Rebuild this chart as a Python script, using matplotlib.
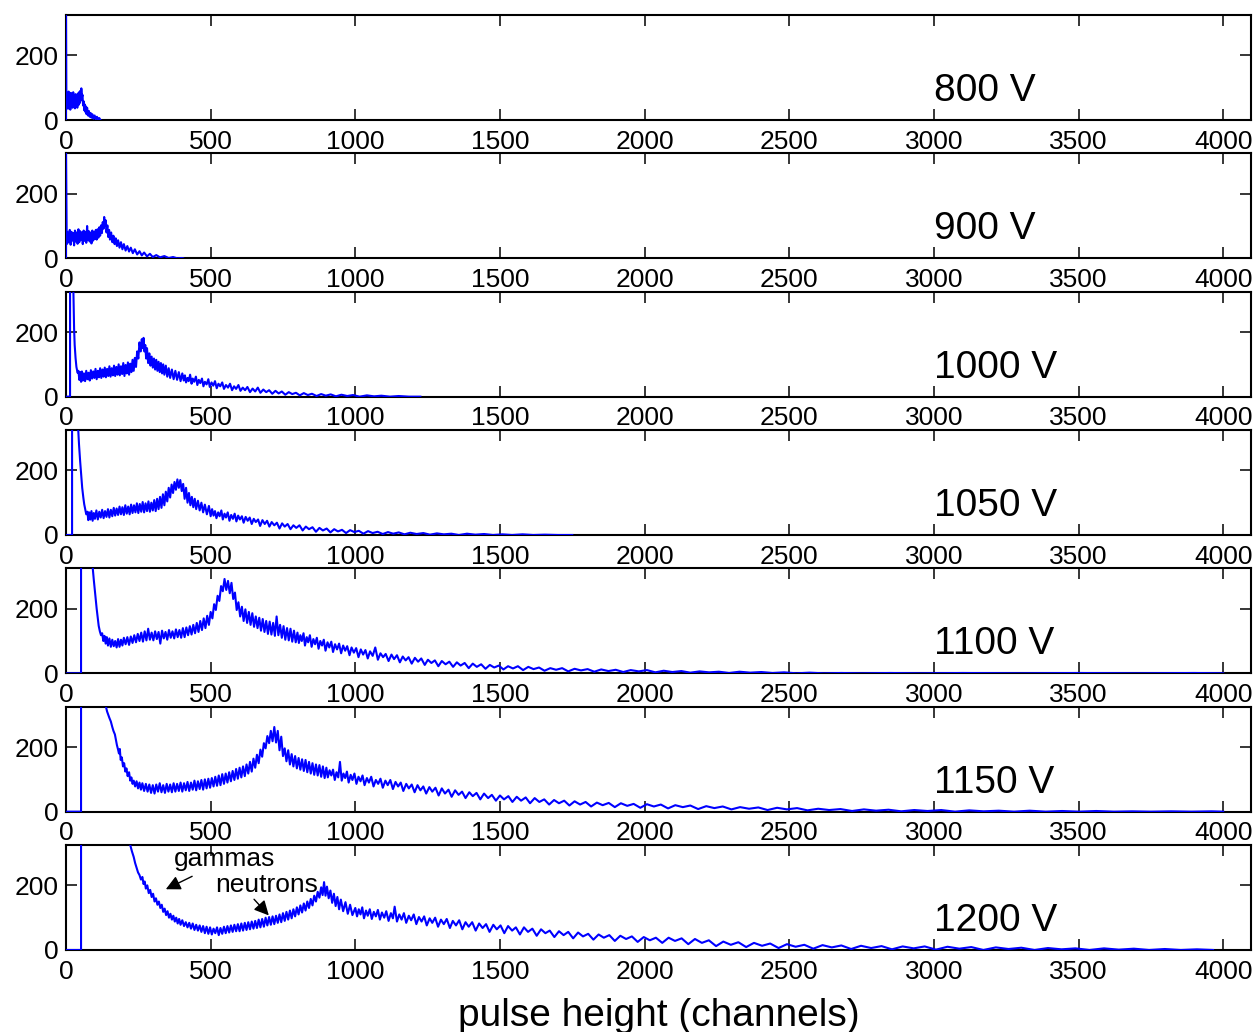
"""Pulse-height spectra at seven PMT voltages, stacked panels."""

import matplotlib
matplotlib.use("Agg")
import matplotlib.pyplot as plt

# ---------------------------------------------------------------------------
# Data (channel, counts), per high-voltage setting
# ---------------------------------------------------------------------------

VOLTAGES = ["800 V", "900 V", "1000 V", "1050 V", "1100 V", "1150 V", "1200 V"]

SPEC_800 = [
    (0, 0), (0, 330), (1, 85), (3, 40), (5, 80), (7, 35), (9, 88), (11, 45), (13, 78), (15, 32),
    (17, 84), (19, 48), (21, 76), (23, 38), (25, 86), (27, 44), (29, 72), (31, 36), (33, 80),
    (35, 42), (37, 74), (39, 38), (41, 82), (43, 46), (45, 86), (47, 52), (49, 90), (51, 60),
    (53, 98), (55, 70), (57, 78), (59, 45), (61, 58), (63, 30), (65, 48), (67, 25), (69, 42),
    (71, 18), (73, 38), (76, 14), (79, 28), (82, 10), (85, 22), (88, 7), (91, 18), (95, 4),
    (99, 14), (103, 2), (107, 10), (111, 1), (115, 6), (119, 0),
]

SPEC_900 = [
    (0, 0), (0, 330), (2, 85), (4, 45), (7, 80), (10, 50), (13, 88), (16, 42), (19, 82), (22, 55),
    (25, 78), (28, 40), (31, 86), (34, 52), (37, 80), (40, 45), (43, 90), (46, 50), (49, 84),
    (52, 58), (55, 80), (58, 44), (61, 86), (64, 54), (67, 82), (70, 48), (73, 100), (76, 56),
    (79, 84), (82, 52), (85, 80), (88, 46), (91, 86), (94, 55), (97, 82), (100, 60), (103, 88),
    (106, 58), (109, 90), (112, 64), (115, 96), (118, 70), (121, 102), (124, 78), (127, 112),
    (130, 92), (132, 128), (134, 100), (137, 118), (140, 80), (143, 102), (146, 66), (149, 88),
    (152, 58), (156, 80), (160, 50), (164, 70), (168, 44), (172, 62), (176, 38), (180, 56),
    (185, 33), (190, 50), (195, 28), (200, 44), (206, 24), (212, 38), (218, 21), (224, 33),
    (231, 16), (238, 28), (246, 12), (254, 22), (262, 9), (270, 18), (280, 6), (290, 14),
    (300, 4), (312, 10), (325, 3), (340, 7), (355, 1), (370, 4), (385, 0), (400, 1), (405, 0),
]

SPEC_1000 = [
    (0, 0), (14, 0), (14, 400), (24, 400), (26, 300), (28, 210), (30, 160), (33, 120), (36, 92),
    (40, 74), (43, 80), (46, 52), (49, 76), (52, 46), (55, 78), (58, 50), (62, 72), (66, 48),
    (70, 80), (74, 54), (78, 74), (82, 50), (86, 82), (90, 56), (94, 78), (98, 58), (102, 86),
    (106, 54), (110, 80), (114, 60), (118, 88), (122, 58), (126, 84), (130, 62), (134, 90),
    (138, 60), (142, 86), (146, 64), (150, 94), (154, 62), (158, 88), (162, 66), (166, 96),
    (170, 64), (174, 92), (178, 68), (182, 100), (186, 66), (190, 94), (194, 70), (198, 104),
    (202, 64), (206, 98), (210, 72), (214, 106), (218, 68), (222, 102), (226, 76), (230, 114),
    (234, 80), (238, 120), (242, 92), (246, 140), (250, 118), (254, 168), (258, 140), (262, 178),
    (265, 150), (268, 182), (271, 140), (274, 160), (277, 118), (280, 150), (284, 104),
    (288, 134), (292, 96), (296, 124), (300, 90), (304, 118), (308, 84), (312, 114), (316, 80),
    (320, 108), (324, 76), (328, 104), (332, 72), (336, 100), (340, 68), (345, 96), (350, 62),
    (355, 88), (360, 58), (366, 84), (372, 54), (378, 80), (384, 52), (390, 76), (396, 48),
    (402, 72), (407, 50), (411, 66), (415, 44), (420, 58), (424, 48), (429, 68), (434, 40),
    (438, 56), (443, 46), (449, 62), (454, 36), (459, 52), (464, 42), (470, 56), (475, 32),
    (480, 46), (486, 38), (492, 54), (497, 30), (503, 44), (509, 34), (515, 48), (521, 26),
    (527, 40), (533, 32), (540, 44), (546, 24), (553, 36), (560, 28), (567, 40), (574, 20),
    (581, 32), (588, 24), (596, 36), (603, 18), (611, 28), (619, 20), (627, 30), (636, 14),
    (645, 25), (654, 16), (663, 28), (672, 12), (682, 22), (692, 14), (702, 20), (713, 9),
    (724, 18), (735, 10), (746, 16), (758, 6), (770, 14), (782, 8), (795, 12), (808, 4),
    (822, 11), (836, 5), (850, 9), (866, 2), (882, 8), (898, 3), (915, 7), (933, 1), (952, 6),
    (972, 2), (992, 5), (1015, 0), (1040, 4), (1065, 1), (1090, 3), (1120, 0), (1150, 2),
    (1185, 0), (1225, 0),
]

SPEC_1050 = [
    (0, 0), (21, 0), (21, 400), (40, 400), (42, 330), (45, 280), (49, 227), (53, 180), (56, 146),
    (60, 115), (63, 95), (67, 78), (70, 64), (74, 72), (77, 46), (80, 70), (84, 48), (88, 74),
    (92, 44), (96, 68), (100, 50), (105, 76), (110, 48), (115, 72), (120, 54), (125, 78),
    (130, 52), (135, 74), (140, 56), (145, 80), (150, 54), (155, 78), (160, 58), (165, 84),
    (170, 60), (175, 82), (180, 62), (185, 88), (190, 64), (195, 86), (200, 62), (205, 92),
    (210, 66), (215, 88), (220, 64), (225, 94), (230, 68), (235, 92), (240, 70), (245, 98),
    (250, 68), (255, 96), (260, 72), (265, 102), (270, 70), (275, 98), (280, 74), (285, 104),
    (290, 72), (295, 100), (300, 76), (305, 108), (310, 74), (315, 112), (320, 80), (325, 118),
    (330, 84), (335, 126), (340, 92), (345, 134), (350, 104), (355, 146), (360, 116), (365, 156),
    (370, 130), (375, 164), (380, 140), (385, 172), (390, 146), (395, 170), (400, 136),
    (405, 158), (410, 112), (415, 146), (420, 100), (425, 130), (430, 92), (435, 118), (440, 86),
    (445, 112), (450, 80), (456, 106), (462, 76), (468, 100), (474, 70), (480, 94), (487, 64),
    (494, 90), (500, 58), (505, 80), (510, 60), (515, 74), (520, 52), (526, 70), (531, 58),
    (537, 76), (542, 48), (548, 66), (553, 54), (559, 70), (565, 44), (571, 62), (577, 50),
    (583, 66), (589, 42), (595, 60), (601, 48), (608, 58), (614, 38), (621, 56), (628, 44),
    (635, 54), (642, 34), (649, 50), (656, 40), (664, 48), (671, 28), (679, 46), (687, 34),
    (695, 44), (703, 26), (711, 40), (720, 30), (729, 38), (738, 20), (747, 36), (756, 26),
    (766, 34), (776, 18), (786, 30), (796, 22), (807, 30), (818, 14), (829, 26), (840, 18),
    (852, 24), (864, 10), (876, 22), (888, 14), (901, 20), (914, 8), (927, 18), (940, 11),
    (954, 16), (968, 6), (982, 15), (997, 9), (1012, 13), (1028, 4), (1044, 12), (1060, 6),
    (1077, 10), (1095, 3), (1113, 9), (1131, 4), (1150, 8), (1170, 2), (1190, 7), (1212, 3),
    (1235, 6), (1258, 1), (1282, 5), (1306, 2), (1332, 4), (1358, 0), (1386, 4), (1415, 1),
    (1445, 3), (1476, 0), (1508, 2), (1542, 0), (1578, 2), (1615, 0), (1655, 1), (1700, 0),
    (1750, 0),
]

SPEC_1100 = [
    (0, 0), (52, 0), (52, 400), (90, 400), (92, 330), (96, 290), (101, 244), (106, 200),
    (110, 170), (113, 147), (117, 130), (121, 118), (125, 124), (129, 100), (133, 116),
    (137, 92), (141, 112), (145, 86), (150, 108), (155, 82), (160, 104), (165, 84), (170, 100),
    (175, 80), (180, 106), (185, 82), (190, 104), (195, 86), (200, 110), (206, 90), (212, 112),
    (218, 88), (224, 114), (230, 94), (236, 118), (242, 96), (248, 122), (254, 100), (260, 126),
    (266, 98), (272, 130), (278, 102), (284, 138), (290, 104), (296, 126), (302, 102),
    (308, 130), (314, 106), (320, 128), (326, 92), (332, 132), (338, 108), (344, 128),
    (350, 104), (356, 134), (362, 110), (368, 130), (374, 108), (380, 136), (386, 112),
    (392, 134), (398, 110), (404, 140), (410, 112), (416, 142), (422, 118), (428, 146),
    (434, 120), (440, 150), (446, 124), (452, 156), (458, 128), (464, 162), (470, 134),
    (476, 170), (482, 140), (488, 178), (494, 150), (500, 190), (506, 170), (512, 214),
    (518, 196), (524, 240), (530, 224), (536, 270), (542, 254), (548, 292), (554, 258),
    (560, 286), (566, 248), (572, 280), (578, 230), (584, 250), (590, 196), (596, 220),
    (602, 176), (608, 206), (614, 162), (620, 198), (626, 156), (632, 190), (638, 150),
    (644, 186), (650, 144), (656, 176), (662, 140), (668, 172), (674, 132), (680, 168),
    (686, 128), (692, 162), (698, 122), (704, 160), (710, 120), (716, 156), (722, 116),
    (728, 176), (734, 118), (740, 150), (746, 110), (752, 146), (758, 104), (764, 140),
    (770, 102), (776, 138), (782, 98), (788, 132), (794, 96), (800, 126), (805, 94), (810, 118),
    (815, 100), (821, 124), (826, 86), (832, 112), (837, 96), (843, 118), (849, 82), (855, 106),
    (861, 90), (867, 110), (873, 76), (879, 100), (885, 86), (891, 104), (897, 70), (904, 96),
    (910, 80), (917, 98), (923, 66), (930, 90), (937, 74), (944, 92), (951, 62), (958, 86),
    (965, 70), (972, 84), (980, 56), (987, 80), (995, 64), (1003, 78), (1011, 50), (1019, 74),
    (1027, 58), (1035, 72), (1043, 46), (1051, 68), (1060, 54), (1069, 80), (1078, 42),
    (1087, 62), (1096, 50), (1105, 60), (1115, 38), (1125, 58), (1134, 44), (1144, 56),
    (1154, 34), (1164, 52), (1174, 40), (1184, 50), (1195, 30), (1206, 48), (1217, 36),
    (1228, 46), (1240, 26), (1251, 42), (1263, 32), (1275, 40), (1287, 22), (1299, 38),
    (1312, 28), (1325, 36), (1338, 20), (1351, 34), (1364, 24), (1378, 32), (1392, 16),
    (1406, 30), (1420, 20), (1435, 28), (1450, 14), (1465, 26), (1480, 18), (1496, 24),
    (1512, 12), (1528, 22), (1545, 15), (1562, 22), (1580, 10), (1598, 20), (1616, 13),
    (1635, 18), (1654, 8), (1674, 16), (1694, 11), (1715, 16), (1736, 6), (1758, 14), (1780, 9),
    (1803, 13), (1826, 5), (1850, 12), (1875, 7), (1900, 11), (1926, 4), (1952, 10), (1980, 6),
    (2008, 10), (2037, 3), (2066, 8), (2096, 4), (2127, 7), (2158, 2), (2190, 6), (2223, 3),
    (2257, 5), (2292, 1), (2328, 5), (2365, 2), (2403, 4), (2442, 1), (2482, 3), (2525, 0),
    (2570, 2), (2620, 0), (2680, 1), (2750, 0), (2850, 1), (2950, 0), (3100, 1), (3300, 0),
    (3500, 1), (3700, 0), (3900, 1), (4000, 0),
]

SPEC_1150 = [
    (0, 0), (52, 0), (52, 400), (136, 400), (138, 325), (142, 310), (146, 300), (150, 290),
    (155, 279), (160, 262), (164, 250), (169, 239), (173, 220), (176, 206), (180, 192),
    (183, 180), (186, 194), (189, 160), (193, 168), (197, 140), (201, 150), (205, 124),
    (209, 134), (213, 110), (218, 122), (222, 96), (226, 106), (230, 86), (234, 96), (239, 78),
    (244, 94), (249, 72), (254, 90), (259, 68), (264, 88), (270, 64), (276, 86), (282, 62),
    (288, 84), (294, 58), (300, 82), (306, 56), (312, 84), (318, 62), (324, 88), (330, 60),
    (336, 82), (342, 58), (348, 86), (354, 62), (360, 84), (366, 60), (372, 88), (378, 62),
    (384, 86), (390, 64), (396, 90), (402, 62), (408, 88), (414, 66), (420, 92), (426, 64),
    (432, 90), (438, 68), (444, 96), (450, 66), (456, 94), (462, 70), (468, 98), (474, 68),
    (480, 100), (486, 72), (492, 102), (498, 74), (504, 104), (510, 78), (516, 108), (522, 80),
    (528, 112), (534, 82), (540, 116), (546, 86), (552, 118), (558, 90), (564, 122), (570, 94),
    (576, 126), (582, 98), (588, 132), (594, 102), (600, 136), (606, 106), (612, 140),
    (618, 110), (624, 146), (630, 118), (636, 154), (642, 124), (648, 164), (654, 136),
    (660, 176), (666, 150), (672, 192), (678, 170), (684, 212), (690, 196), (696, 234),
    (702, 212), (708, 250), (714, 218), (720, 262), (726, 214), (732, 250), (738, 190),
    (744, 232), (750, 172), (756, 196), (762, 156), (768, 190), (774, 146), (780, 178),
    (786, 140), (792, 172), (798, 134), (804, 166), (810, 130), (816, 162), (822, 126),
    (828, 160), (834, 122), (840, 154), (846, 118), (852, 150), (858, 114), (864, 146),
    (870, 112), (876, 144), (882, 108), (888, 140), (894, 104), (900, 136), (905, 106),
    (911, 128), (917, 112), (923, 130), (929, 98), (935, 122), (941, 106), (947, 154), (953, 96),
    (959, 118), (965, 104), (971, 124), (977, 90), (984, 114), (990, 98), (997, 118), (1004, 86),
    (1011, 108), (1018, 94), (1025, 112), (1032, 82), (1040, 104), (1047, 90), (1055, 108),
    (1063, 78), (1071, 98), (1079, 86), (1087, 102), (1095, 74), (1104, 96), (1112, 82),
    (1121, 98), (1130, 70), (1139, 92), (1148, 78), (1157, 90), (1166, 64), (1176, 86),
    (1185, 72), (1195, 84), (1205, 60), (1215, 82), (1225, 66), (1235, 78), (1245, 56),
    (1256, 76), (1266, 62), (1277, 74), (1288, 50), (1299, 72), (1310, 56), (1322, 68),
    (1333, 46), (1345, 66), (1357, 52), (1369, 62), (1381, 42), (1394, 60), (1406, 48),
    (1419, 58), (1432, 38), (1445, 56), (1459, 42), (1472, 52), (1486, 34), (1500, 50),
    (1514, 38), (1529, 48), (1543, 30), (1558, 46), (1573, 34), (1589, 44), (1604, 26),
    (1620, 42), (1636, 30), (1653, 38), (1670, 22), (1687, 36), (1704, 26), (1722, 34),
    (1740, 19), (1758, 32), (1777, 22), (1796, 30), (1815, 16), (1835, 28), (1855, 20),
    (1876, 27), (1897, 14), (1918, 26), (1940, 18), (1962, 24), (1985, 12), (2008, 23),
    (2032, 16), (2056, 22), (2081, 10), (2106, 20), (2132, 14), (2158, 19), (2185, 8),
    (2213, 17), (2241, 11), (2270, 16), (2300, 7), (2330, 14), (2361, 9), (2393, 13), (2425, 5),
    (2458, 12), (2492, 7), (2527, 11), (2563, 4), (2600, 9), (2638, 5), (2677, 8), (2717, 2),
    (2758, 7), (2800, 3), (2843, 6), (2887, 1), (2932, 5), (2978, 2), (3025, 5), (3073, 0),
    (3122, 4), (3172, 1), (3224, 3), (3277, 0), (3331, 3), (3386, 0), (3443, 2), (3501, 0),
    (3561, 2), (3622, 0), (3685, 1), (3750, 0), (3820, 1), (3890, 0), (3960, 1), (4000, 0),
]

SPEC_1200 = [
    (0, 0), (52, 0), (52, 400), (220, 400), (222, 325), (228, 305), (234, 288), (239, 269),
    (244, 255), (249, 240), (254, 232), (259, 218), (264, 226), (268, 204), (272, 212),
    (276, 190), (281, 200), (286, 176), (291, 186), (296, 164), (301, 174), (306, 150),
    (311, 160), (316, 140), (321, 150), (326, 130), (331, 140), (336, 118), (341, 128),
    (346, 108), (351, 120), (356, 100), (361, 112), (366, 94), (371, 106), (376, 88), (381, 100),
    (386, 82), (391, 96), (396, 78), (402, 92), (408, 74), (414, 86), (420, 70), (426, 84),
    (432, 66), (438, 82), (444, 62), (450, 78), (456, 60), (462, 76), (468, 56), (474, 74),
    (480, 52), (486, 72), (492, 50), (498, 70), (504, 48), (510, 66), (516, 52), (522, 70),
    (528, 46), (534, 68), (540, 50), (546, 72), (552, 52), (558, 74), (564, 54), (570, 76),
    (576, 56), (582, 78), (588, 58), (594, 80), (600, 58), (606, 82), (612, 60), (618, 84),
    (624, 62), (630, 86), (636, 64), (642, 88), (648, 66), (654, 90), (660, 68), (666, 94),
    (672, 70), (678, 96), (684, 72), (690, 100), (696, 76), (702, 102), (708, 78), (714, 104),
    (720, 80), (726, 106), (732, 84), (738, 110), (744, 86), (750, 114), (756, 90), (762, 118),
    (768, 94), (774, 122), (780, 98), (786, 126), (792, 104), (798, 132), (804, 110), (810, 138),
    (816, 116), (822, 144), (828, 122), (834, 150), (840, 130), (846, 158), (852, 138),
    (858, 168), (864, 150), (870, 180), (876, 162), (882, 194), (887, 170), (892, 210),
    (897, 168), (902, 196), (908, 160), (914, 184), (920, 146), (926, 174), (932, 136),
    (938, 164), (944, 126), (950, 156), (958, 120), (966, 148), (974, 112), (982, 140),
    (990, 108), (1000, 130), (1006, 104), (1012, 126), (1018, 110), (1024, 132), (1030, 98),
    (1037, 122), (1043, 106), (1050, 126), (1057, 96), (1064, 118), (1071, 104), (1078, 124),
    (1085, 94), (1092, 116), (1100, 100), (1107, 120), (1115, 90), (1123, 114), (1130, 98),
    (1136, 134), (1144, 88), (1152, 110), (1160, 94), (1168, 114), (1176, 84), (1185, 106),
    (1193, 92), (1202, 110), (1211, 80), (1220, 102), (1229, 88), (1238, 104), (1247, 76),
    (1257, 98), (1266, 84), (1276, 100), (1286, 72), (1296, 94), (1306, 80), (1316, 96),
    (1327, 68), (1337, 90), (1348, 76), (1359, 92), (1370, 64), (1381, 86), (1392, 72),
    (1404, 86), (1416, 60), (1428, 82), (1440, 68), (1452, 80), (1464, 56), (1477, 78),
    (1489, 64), (1502, 76), (1515, 52), (1528, 74), (1542, 60), (1555, 70), (1569, 48),
    (1583, 70), (1597, 56), (1612, 66), (1627, 44), (1642, 64), (1657, 52), (1672, 60),
    (1688, 40), (1704, 58), (1720, 46), (1736, 56), (1753, 36), (1770, 54), (1787, 42),
    (1805, 50), (1823, 32), (1841, 48), (1859, 38), (1878, 46), (1897, 28), (1916, 44),
    (1936, 34), (1956, 42), (1976, 25), (1997, 40), (2018, 30), (2039, 38), (2061, 22),
    (2083, 38), (2105, 28), (2128, 36), (2151, 18), (2174, 34), (2198, 22), (2222, 30),
    (2247, 12), (2272, 26), (2298, 16), (2324, 24), (2351, 9), (2378, 22), (2406, 13),
    (2434, 20), (2463, 6), (2492, 18), (2522, 10), (2552, 16), (2583, 4), (2615, 15), (2647, 8),
    (2680, 14), (2714, 3), (2748, 13), (2783, 6), (2819, 12), (2855, 2), (2892, 11), (2930, 5),
    (2968, 11), (3007, 1), (3047, 10), (3088, 4), (3129, 9), (3171, 0), (3214, 8), (3258, 3),
    (3302, 7), (3348, 0), (3394, 6), (3441, 2), (3489, 5), (3538, 0), (3588, 5), (3639, 1),
    (3691, 4), (3744, 0), (3798, 3), (3853, 0), (3909, 2), (3965, 0),
]

SPECTRA = [SPEC_800, SPEC_900, SPEC_1000, SPEC_1050, SPEC_1100, SPEC_1150, SPEC_1200]

X_TICKS = [0, 500, 1000, 1500, 2000, 2500, 3000, 3500, 4000]
Y_TICKS = [0, 200]

# annotation anchors in the 1200 V panel: (text, text xy, arrow tail, arrow head)
GAMMA_NOTE = ("gammas", (373, 259), (436, 228), (345, 188))
NEUTRON_NOTE = ("neutrons", (514, 178), (650, 157), (701, 107))

# ---------------------------------------------------------------------------
# Plot
# ---------------------------------------------------------------------------

plt.rcParams["font.family"] = ["Liberation Sans", "DejaVu Sans"]

W, H = 1255, 1032
fig = plt.figure(figsize=(W / 100, H / 100), dpi=100)

left_px, right_px = 66, 1251
top0_px, pitch_px, height_px = 15, 138.33, 105

for i, (label, spec) in enumerate(zip(VOLTAGES, SPECTRA)):
    top = top0_px + pitch_px * i
    ax = fig.add_axes([left_px / W, 1 - (top + height_px) / H,
                       (right_px - left_px) / W, height_px / H])
    ch, ct = zip(*spec)
    ax.plot(ch, ct, color="#0000ff", lw=1.5, zorder=3)

    ax.set_xlim(0, 4096)
    ax.set_ylim(0, 325)
    ax.set_xticks(X_TICKS)
    ax.set_yticks(Y_TICKS)
    ax.tick_params(direction="in", length=8, width=1.1, labelsize=19,
                   top=True, right=True)
    ax.tick_params(axis="x", pad=7)
    ax.tick_params(axis="y", pad=5)
    for sp in ax.spines.values():
        sp.set_linewidth(1.5)

    ax.text(3000, 59, label, fontsize=28, ha="left", va="baseline")

    if i == len(VOLTAGES) - 1:
        for name, txt_xy, tail, head in (GAMMA_NOTE, NEUTRON_NOTE):
            ax.text(txt_xy[0], txt_xy[1], name, fontsize=19, ha="left", va="baseline")
            ax.annotate("", xy=head, xytext=tail,
                        arrowprops=dict(arrowstyle="-|>", color="black", lw=1.0,
                                        mutation_scale=22, shrinkA=0, shrinkB=0))

fig.text(658.5 / W, 1 - 1026 / H, "pulse height (channels)", fontsize=28,
         ha="center", va="baseline")

fig.savefig("out.png", dpi=100)
